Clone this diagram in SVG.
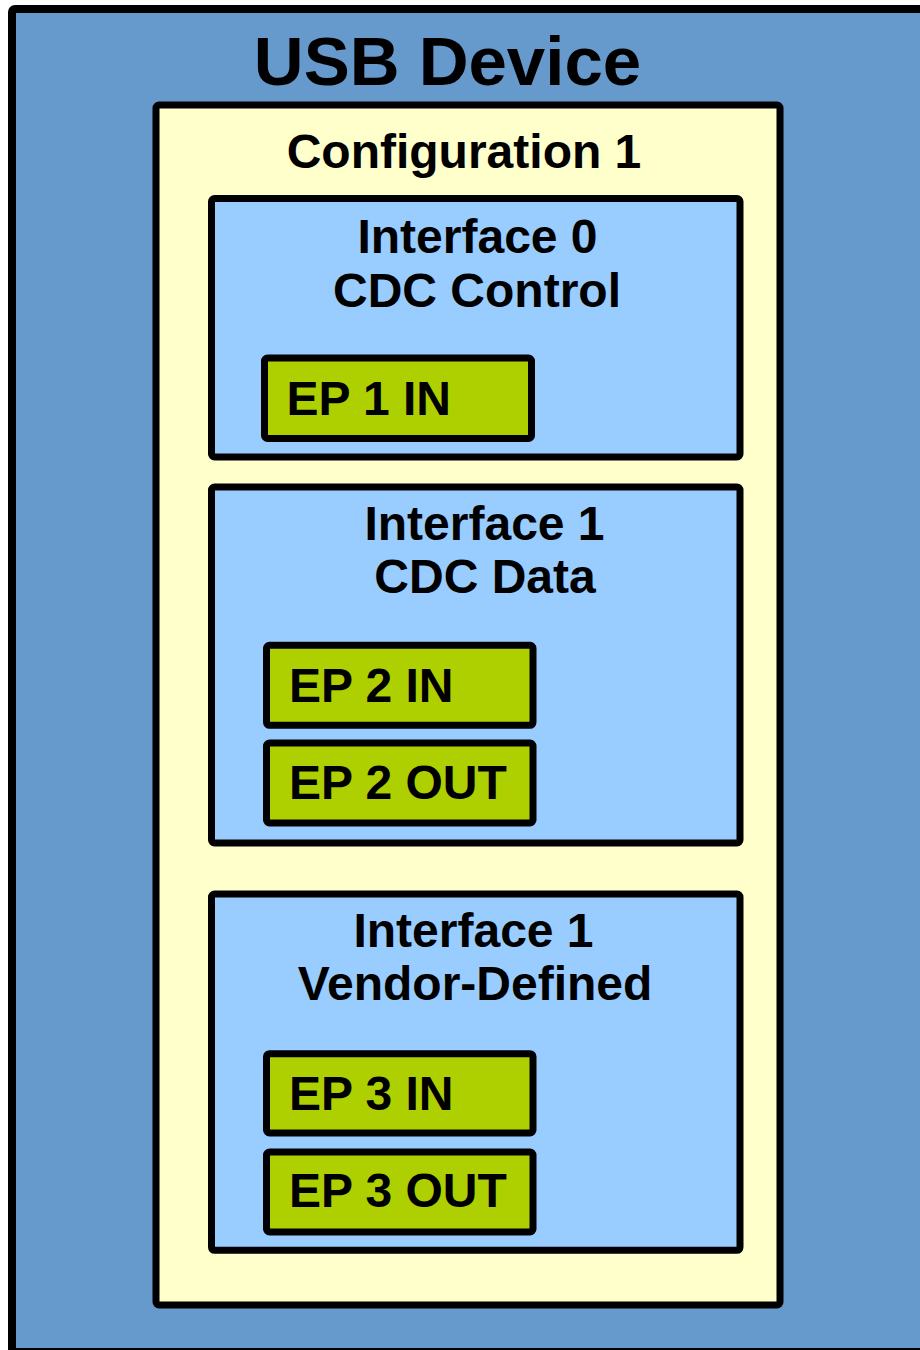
<svg xmlns="http://www.w3.org/2000/svg" width="920" height="1350" viewBox="0 0 920 1350">
  <style>
    .box { stroke: #000; stroke-linejoin: round; }
    .device { fill: #6699cc; stroke-width: 8; }
    .config { fill: #ffffcc; stroke-width: 7; }
    .iface { fill: #99ccff; stroke-width: 7; }
    .ep { fill: #afd000; stroke-width: 7; }
    text { font-family: "Liberation Sans", Arial, sans-serif; font-weight: bold; fill: #000; }
    .title { font-size: 69px; text-anchor: middle; }
    .label { font-size: 48px; text-anchor: middle; }
    .eplabel { font-size: 48px; }
  </style>

  <g id="usb-device">
    <rect class="box device" x="12" y="9" width="930" height="1343" rx="3"/>
    <text class="title" x="447.5" y="85">USB Device</text>
  </g>

  <g id="configuration-1">
    <rect class="box config" x="156" y="105" width="624" height="1200" rx="3"/>
    <text class="label" x="464" y="168">Configuration 1</text>
  </g>

  <g id="interface-0">
    <rect class="box iface" x="211.5" y="198.5" width="528.5" height="258.5" rx="3"/>
    <text class="label" x="477.5" y="253">Interface 0</text>
    <text class="label" x="477" y="306.5">CDC Control</text>
  </g>

  <g id="ep1-in">
    <rect class="box ep" x="264.5" y="358" width="267" height="80.5" rx="3"/>
    <text class="eplabel" x="286.5" y="415">EP 1 IN</text>
  </g>

  <g id="interface-1-cdc">
    <rect class="box iface" x="211.5" y="487" width="528.5" height="356" rx="3"/>
    <text class="label" x="484.5" y="540">Interface 1</text>
    <text class="label" x="485" y="593">CDC Data</text>
  </g>

  <g id="ep2-in">
    <rect class="box ep" x="266.5" y="645.3" width="266.5" height="80" rx="3"/>
    <text class="eplabel" x="289" y="701.5">EP 2 IN</text>
  </g>

  <g id="ep2-out">
    <rect class="box ep" x="266.5" y="743" width="266.5" height="80" rx="3"/>
    <text class="eplabel" x="289" y="798.5">EP 2 OUT</text>
  </g>

  <g id="interface-1-vendor">
    <rect class="box iface" x="211.5" y="894" width="528.5" height="356.3" rx="3"/>
    <text class="label" x="473.5" y="946.5">Interface 1</text>
    <text class="label" x="475" y="1000">Vendor-Defined</text>
  </g>

  <g id="ep3-in">
    <rect class="box ep" x="266.5" y="1053.7" width="266.5" height="79.3" rx="3"/>
    <text class="eplabel" x="289" y="1110">EP 3 IN</text>
  </g>

  <g id="ep3-out">
    <rect class="box ep" x="266.5" y="1152" width="266.5" height="80" rx="3"/>
    <text class="eplabel" x="289" y="1206.5">EP 3 OUT</text>
  </g>

  <g id="connectors"/>
</svg>
